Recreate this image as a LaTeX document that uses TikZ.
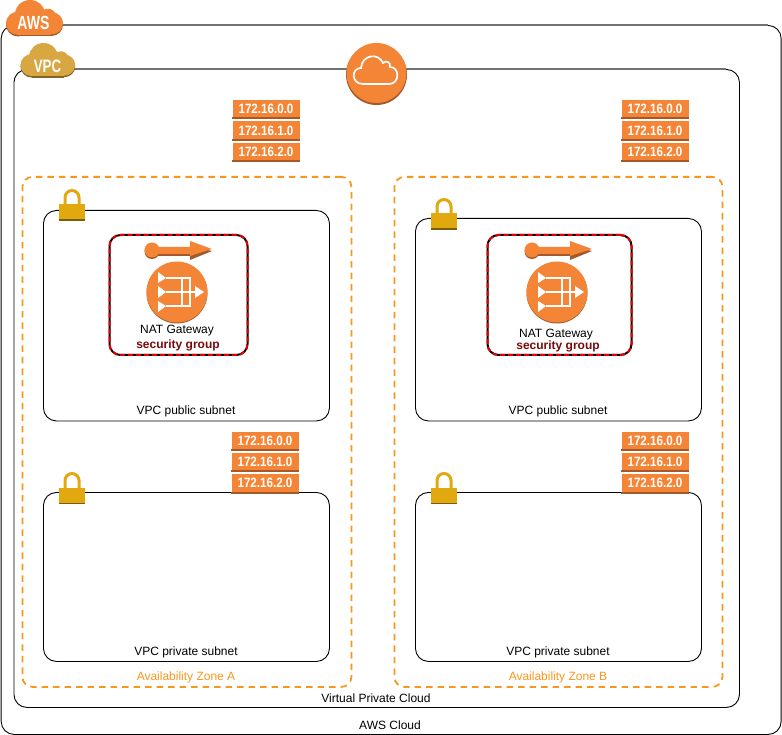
\documentclass[tikz,border=0pt]{standalone}
\usepackage{fontspec}
\setmainfont{Liberation Sans}
\newfontfamily\narrowfont[FakeStretch=0.86]{Liberation Sans}
\newfontfamily\badgefont[FakeStretch=0.74]{Liberation Sans}
\usepackage{xcolor}
\usetikzlibrary{positioning}
\definecolor{awsorange}{HTML}{F58536}
\definecolor{awsdark}{HTML}{A4592A}
\definecolor{zoneorange}{HTML}{F7981D}
\definecolor{vpcgold}{HTML}{D9A741}
\definecolor{lockgold}{HTML}{E1A90F}
\definecolor{sgred}{HTML}{7A0A0A}

% cloud badge, 57 wide and 36 high, origin at its top left
\tikzset{
  cloudbadge/.pic={
    \fill[#1] (12,24) circle (12) (24,15) circle (15) (42,17) circle (8) (45.5,24) circle (11.5);
    \fill[#1] (12,12) rectangle (45,36);
  },
  lockicon/.pic={
    \draw[lockgold, line width=3pt] (-7,0) -- (-7,-9) arc (180:360:7) -- (7,0);
    \fill[lockgold] (-13,-2) rectangle (13,13);
    \fill[black!45!lockgold] (-13,13) rectangle (13,14.5);
  },
  natarrow/.pic={
    \fill[awsdark] (0,1.5) circle (7.5);
    \fill[awsdark] (0,0) -- (38,0) -- (38,10) -- (60,1) -- (38,-4) -- (38,6) -- (0,6) -- cycle;
    \fill[awsorange] (0,0) circle (7.5);
    \fill[awsorange] (0,-3) -- (38,-3) -- (38,-9) -- (60,-1) -- (38,6) -- (38,4) -- (0,4) -- cycle;
  },
  natcircle/.pic={
    \fill[awsdark] (0,1) circle (30.5);
    \fill[awsorange] (0,0) circle (30.5);
    \draw[white, line width=1.8pt] (-11,-14) -- (13,-14) -- (13,14) -- (-11,14) (-11,0) -- (18,0) (5,-14) -- (5,14);
    \fill[white] (-19,-20) -- (-11,-14) -- (-19,-9) -- cycle (-19,-6) -- (-11,0) -- (-19,6) -- cycle (-19,9) -- (-11,14) -- (-19,20) -- cycle (18,-6) -- (27,0) -- (18,6) -- cycle;
  }
}

\begin{document}
\begin{tikzpicture}[x=1pt, y=-1pt, node distance=3pt, font=\fontsize{12}{14}\selectfont]
    \tikzstyle{container}=[rectangle, draw=black, rounded corners=13pt, line width=0.9pt, anchor=north west, inner sep=0pt]
    \tikzstyle{zone}=[rectangle, draw=zoneorange, dash pattern=on 6.5pt off 5pt, rounded corners=10pt, line width=1.8pt, anchor=north west, inner sep=0pt]
    \tikzstyle{sgbox}=[rectangle, draw=black, rounded corners=11pt, line width=2pt, anchor=north west, inner sep=0pt]
    \tikzstyle{sgdash}=[rectangle, draw=red!90!black, dash pattern=on 5pt off 3pt, rounded corners=11pt, line width=2pt, anchor=north west, inner sep=0pt]
    \tikzstyle{route}=[rectangle, fill=awsorange, text=white, minimum width=67pt, minimum height=18pt, inner sep=0pt, font=\fontsize{13.5}{14}\narrowfont\bfseries]
    \tikzstyle{routeline}=[draw=awsdark, line width=2pt]
    \tikzstyle{label}=[inner sep=0pt, text=black]
    \tikzstyle{azlabel}=[inner sep=0pt, text=zoneorange]
    \tikzstyle{badge}=[inner sep=0pt, text=white, font=\fontsize{19}{20}\badgefont\bfseries]

    \useasboundingbox (0,0) rectangle (782,735);
    \fill[white] (0,0) rectangle (782,735);

    % outer boxes
    \node[container, minimum width=780pt, minimum height=709pt] (aws) at (0.7,25) {};
    \node[container, minimum width=725.5pt, minimum height=638pt] (vpc) at (13.5,69) {};
    \draw[gray!90!black, line width=1.6pt] (62,25) -- (768,25);
    \draw[gray!90!black, line width=1.6pt] (75,69) -- (726,69);

    % availability zones
    \node[zone, minimum width=329pt, minimum height=510pt] (zonea) at (21.5,176) {};
    \node[zone, minimum width=328pt, minimum height=510pt] (zoneb) at (393.5,176) {};

    % subnets
    \node[container, minimum width=286pt, minimum height=210.5pt] (puba) at (43,210) {};
    \node[container, minimum width=286pt, minimum height=202.5pt] (pubb) at (415,218) {};
    \node[container, minimum width=286pt, minimum height=169pt] (priva) at (43,492) {};
    \node[container, minimum width=286pt, minimum height=169pt] (privb) at (415,492) {};

    % security groups
    \node[sgbox, minimum width=138pt, minimum height=120pt] (sga) at (108.5,234) {};
    \node[sgdash, minimum width=138pt, minimum height=120pt] at (108.5,234) {};
    \node[sgbox, minimum width=144pt, minimum height=120pt] (sgb) at (486.5,234) {};
    \node[sgdash, minimum width=144pt, minimum height=120pt] at (486.5,234) {};

    % route tables
    \node[route] (rta) at (266,109) {172.16.0.0};
    \node[route, below=of rta] (rtb) {172.16.1.0};
    \node[route, below=of rtb] (rtc) {172.16.2.0};
    \node[route] (rtd) at (655,109) {172.16.0.0};
    \node[route, below=of rtd] (rte) {172.16.1.0};
    \node[route, below=of rte] (rtf) {172.16.2.0};
    \node[route] (rtg) at (265,440.5) {172.16.0.0};
    \node[route, below=of rtg] (rth) {172.16.1.0};
    \node[route, below=of rth] (rti) {172.16.2.0};
    \node[route] (rtj) at (655,440.5) {172.16.0.0};
    \node[route, below=of rtj] (rtk) {172.16.1.0};
    \node[route, below=of rtk] (rtl) {172.16.2.0};
    \foreach \rt in {rta,rtb,rtc,rtd,rte,rtf,rtg,rth,rti,rtj,rtk,rtl}
      \draw[routeline] (\rt.south west) -- (\rt.south east);

    % cloud badges and the gateway circle
    \pic[yscale=0.97] at (6,1.5) {cloudbadge=awsdark};
    \pic[yscale=0.97] at (6,0) {cloudbadge=awsorange};
    \pic[xscale=0.96, yscale=0.92] at (20.5,44.5) {cloudbadge=black!40!vpcgold};
    \pic[xscale=0.96, yscale=0.92] at (20.5,43) {cloudbadge=vpcgold};
    \node[badge] (awstext) at (33.5,23) {AWS};
    \node[badge, font=\fontsize{18}{20}\badgefont\bfseries] (vpctext) at (47.5,66) {VPC};
    \fill[awsdark] (376.5,74.5) circle (30.5);
    \fill[awsorange] (376.5,73) circle (30);
    \draw[white, line width=1.7pt] (363,84) .. controls (351,84) and (351,68) .. (361,68) .. controls (362,55) and (378,52) .. (383,63) .. controls (386,60) and (391,62) .. (390,67) .. controls (400,67) and (400,84) .. (389,84) -- cycle;

    % locks
    \pic at (72,206.5) {lockicon};
    \pic at (444,215.5) {lockicon};
    \pic at (72,489.5) {lockicon};
    \pic at (444,489.5) {lockicon};

    % NAT gateways
    \pic at (152,250) {natarrow};
    \pic at (532,250) {natarrow};
    \pic at (177,292) {natcircle};
    \pic at (557,292) {natcircle};

    % labels
    \node[label] (nata) at (177,331) {NAT Gateway};
    \node[label] (natb) at (556,334.5) {NAT Gateway};
    \node[label, text=sgred, font=\fontsize{12}{14}\selectfont\bfseries] (grpa) at (178,345) {security group};
    \node[label, text=sgred, font=\fontsize{12}{14}\selectfont\bfseries] (grpb) at (558,346) {security group};
    \node[label] (puba text) at (186,411) {VPC public subnet};
    \node[label] (pubb text) at (558,411) {VPC public subnet};
    \node[label] (priva text) at (186,652) {VPC private subnet};
    \node[label] (privb text) at (558,652) {VPC private subnet};
    \node[azlabel] (zonea text) at (186,677) {Availability Zone A};
    \node[azlabel] (zoneb text) at (558,677) {Availability Zone B};
    \node[label] (vpc text) at (376,698) {Virtual Private Cloud};
    \node[label] (aws text) at (390,725) {AWS Cloud};
\end{tikzpicture}
\end{document}
